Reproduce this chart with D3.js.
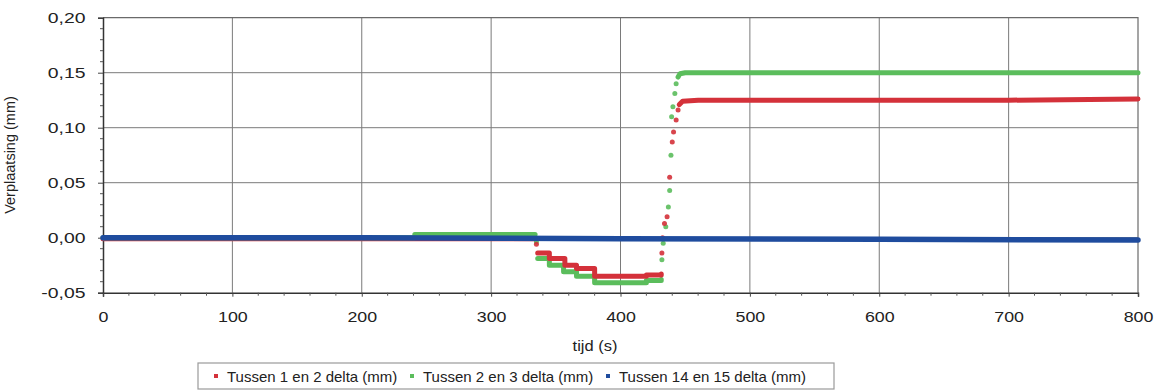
<!DOCTYPE html>
<html>
<head>
<meta charset="utf-8">
<script src="https://cdn.jsdelivr.net/npm/d3@7"></script>
<style>
  body { margin: 0; background: #fff; }
  svg { display: block; }
  text { font-family: "Liberation Sans", Arial, sans-serif; fill: #222; }
</style>
</head>
<body>
<svg width="1160" height="392"></svg>
<script>
// data (t in s, value in mm)
const seriesNames = ['Tussen 1 en 2 delta (mm)', 'Tussen 2 en 3 delta (mm)', 'Tussen 14 en 15 delta (mm)'];
const seriesColors = ['#d4313a', '#5bbd5c', '#1f4c9e'];

const xTicks = [0, 100, 200, 300, 400, 500, 600, 700, 800];
const yTicks = [-0.05, 0, 0.05, 0.10, 0.15, 0.20];

// red: before drop, stepped drop, jump dots, plateau
const redBefore = [[0, -0.001], [200, -0.001], [334, -0.001]];
const redDrop = [[336, -0.014], [345, -0.019], [357, -0.025], [366, -0.028], [380, -0.035], [405, -0.035], [420, -0.034], [431.5, -0.033]];
const redJump = [[335, -0.006], [432, -0.014], [432.5, 0.0], [434, 0.013], [436, 0.019], [438, 0.055], [440, 0.087], [441, 0.096], [443, 0.107], [444.5, 0.116]];
const redAfter = [[445.5, 0.121], [448, 0.124], [460, 0.125], [600, 0.125], [700, 0.125], [800, 0.126]];

// green
const greenBefore = [[0, 0], [240, 0], [241, 0.003], [334, 0.003]];
const greenDrop = [[336, -0.019], [345, -0.025], [356, -0.031], [366, -0.035], [380, -0.041], [405, -0.041], [420, -0.039], [431.5, -0.038]];
const greenJump = [[335, -0.004], [432, -0.02], [433, -0.005], [435, 0.010], [437, 0.028], [438, 0.043], [439, 0.075], [439.5, 0.110], [440.5, 0.119], [442, 0.131], [443, 0.140]];
const greenAfter = [[444.5, 0.146], [446, 0.149], [450, 0.150], [600, 0.150], [800, 0.150]];

// blue
const blueLine = [[0, 0], [200, 0], [400, -0.001], [600, -0.0015], [800, -0.002]];

const svg = d3.select('svg');

const x = d3.scaleLinear().domain([0, 800]).range([103, 1138]);
const y = d3.scaleLinear().domain([-0.05, 0.20]).range([292.7, 17.7]);

const fmt = d => d3.format('.2f')(d).replace('.', ',').replace('−', '-');

// grid
svg.append('g')
  .selectAll('line')
  .data(xTicks.slice(1, -1))
  .join('line')
  .attr('x1', d => x(d)).attr('x2', d => x(d))
  .attr('y1', y(0.20)).attr('y2', y(-0.05))
  .attr('stroke', '#7a7a7a').attr('stroke-width', 1);

svg.append('g')
  .selectAll('line')
  .data(yTicks.slice(1, -1))
  .join('line')
  .attr('x1', x(0)).attr('x2', x(800))
  .attr('y1', d => y(d)).attr('y2', d => y(d))
  .attr('stroke', '#7a7a7a').attr('stroke-width', 1);

// frame top / right
svg.append('path')
  .attr('d', `M${x(0)},${y(0.20)}H${x(800)}V${y(-0.05)}`)
  .attr('fill', 'none').attr('stroke', '#6a6a6a').attr('stroke-width', 1.2);

// axes
const yAxis = d3.axisLeft(y).tickValues(yTicks).tickFormat(fmt).tickSize(5).tickPadding(9);
const gy = svg.append('g').attr('transform', `translate(${x(0)},0)`).call(yAxis);
const xAxis = d3.axisBottom(x).tickValues(xTicks).tickFormat(d3.format('d')).tickSize(4).tickPadding(14);
const gx = svg.append('g').attr('transform', `translate(0,${y(-0.05)})`).call(xAxis);

[gy, gx].forEach(g => {
  g.select('.domain').attr('stroke', '#333').attr('stroke-width', 1.5);
  g.selectAll('.tick line').attr('stroke', '#444');
  g.selectAll('.tick text').attr('font-size', 15.5).attr('fill', '#1e1e1e')
    .attr('font-family', '"Liberation Sans", Arial, sans-serif');
});
gy.selectAll('.tick text').attr('transform', 'scale(1.25,1)');
gx.selectAll('.tick text').attr('transform', 'scale(1.15,1)');

// minor ticks
const yMinor = d3.range(-50, 201, 10).map(v => v / 1000).filter(v => !yTicks.some(t => Math.abs(t - v) < 1e-9));
svg.append('g').selectAll('line').data(yMinor).join('line')
  .attr('x1', x(0) - 3).attr('x2', x(0))
  .attr('y1', d => y(d)).attr('y2', d => y(d))
  .attr('stroke', '#555');
const xMinor = d3.range(0, 801, 20).filter(v => v % 100 !== 0);
svg.append('g').selectAll('line').data(xMinor).join('line')
  .attr('x1', d => x(d)).attr('x2', d => x(d))
  .attr('y1', y(-0.05)).attr('y2', y(-0.05) + 3)
  .attr('stroke', '#555');

// series
const stepLine = d3.line().x(d => x(d[0])).y(d => y(d[1])).curve(d3.curveStepAfter);
const flatLine = d3.line().x(d => x(d[0])).y(d => y(d[1]));

function drawLine(data, color, width, gen) {
  svg.append('path').datum(data)
    .attr('d', gen)
    .attr('fill', 'none')
    .attr('stroke', color)
    .attr('stroke-width', width)
    .attr('stroke-linecap', 'round')
    .attr('stroke-linejoin', 'round');
}
function drawDots(data, color) {
  svg.append('g').selectAll('circle').data(data).join('circle')
    .attr('cx', d => x(d[0])).attr('cy', d => y(d[1]))
    .attr('r', 2.5).attr('fill', color).attr('opacity', 0.9);
}

drawLine(redBefore, seriesColors[0], 5, flatLine);
drawLine(greenBefore, seriesColors[1], 5, stepLine);
drawLine(greenDrop, seriesColors[1], 5, stepLine);
drawLine(redDrop, seriesColors[0], 5, stepLine);
drawDots(greenJump, seriesColors[1]);
drawDots(redJump, seriesColors[0]);
drawLine(greenAfter, seriesColors[1], 5, flatLine);
drawLine(redAfter, seriesColors[0], 5, flatLine);
drawLine(blueLine, seriesColors[2], 5.5, flatLine);

// axis titles
svg.append('text')
  .attr('transform', 'translate(15,155) rotate(-90)')
  .attr('text-anchor', 'middle')
  .attr('font-size', 14.5)
  .text('Verplaatsing (mm)');

svg.append('text')
  .attr('transform', 'translate(595,351) scale(1.1,1)')
  .attr('text-anchor', 'middle')
  .attr('font-size', 15)
  .text('tijd (s)');

// legend
const lg = svg.append('g');
lg.append('rect')
  .attr('x', 198).attr('y', 363).attr('width', 636).attr('height', 26)
  .attr('fill', '#fff').attr('stroke', '#9a9a9a').attr('stroke-width', 1.2);
const legendX = [216, 412, 608];
seriesNames.forEach((name, i) => {
  lg.append('rect')
    .attr('x', legendX[i] - 2).attr('y', 374).attr('width', 4).attr('height', 4)
    .attr('fill', seriesColors[i]);
  lg.append('text')
    .attr('x', legendX[i] + 11).attr('y', 382)
    .attr('font-size', 15)
    .text(name);
});
</script>
</body>
</html>
